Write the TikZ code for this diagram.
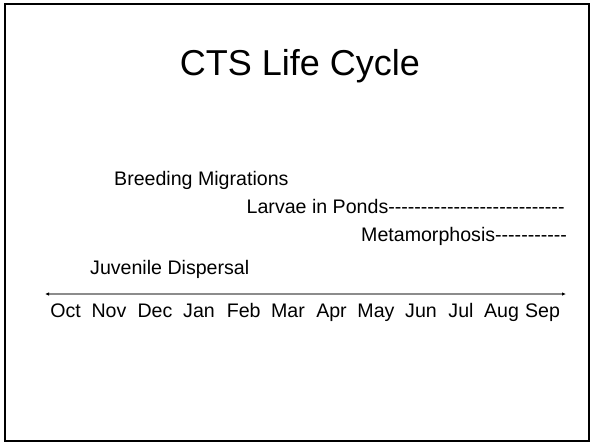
\documentclass[tikz,border=0pt]{standalone}
\usepackage{fontspec}
\setmainfont{Liberation Sans}
\usetikzlibrary{arrows.meta}
\newcommand\dashrun[1]{\ifnum#1>0 -\kern0pt\relax\expandafter\dashrun\expandafter{\the\numexpr#1-1\relax}\fi}
\definecolor{axisgray}{RGB}{140,140,140}
\tikzset{
  lbl/.style={inner sep=0pt, anchor=base west, font=\fontsize{19.6}{23}\selectfont},
  mon/.style={inner sep=0pt, anchor=base, font=\fontsize{19.6}{23}\selectfont},
  ttl/.style={inner sep=0pt, anchor=base, font=\fontsize{36}{40}\selectfont},
  frame/.style={draw=black, line width=2pt},
  axis/.style={draw=axisgray, line width=1.2pt, {Latex[black,length=4pt,width=3.5pt]}-{Latex[black,length=4pt,width=3.5pt]}}
}
\begin{document}
\begin{tikzpicture}[x=1pt,y=-1pt]
\useasboundingbox (0,0) rectangle (595,445);
\draw[frame] (5,4) rectangle (589,441);
\node[ttl] (title) at (300,75) {CTS Life Cycle};
\node[lbl] (breed) at (114,185) {Breeding Migrations};
\node[lbl] (larvae) at (246.5,213.3) {Larvae in Ponds\dashrun{27}};
\node[lbl] (meta) at (361,241.7) {Metamorphosis\dashrun{11}};
\node[lbl] (juv) at (90,274) {Juvenile Dispersal};
\coordinate (axl) at (45,294);
\coordinate (axr) at (566,294);
\draw[axis] (axl) -- (axr);
\node[mon] (m1) at (65.5,317) {Oct};
\node[mon] (m2) at (109,317) {Nov};
\node[mon] (m3) at (155,317) {Dec};
\node[mon] (m4) at (199,317) {Jan};
\node[mon] (m5) at (243.7,317) {Feb};
\node[mon] (m6) at (288,317) {Mar};
\node[mon] (m7) at (331.5,317) {Apr};
\node[mon] (m8) at (376,317) {May};
\node[mon] (m9) at (421,317) {Jun};
\node[mon] (m10) at (461,317) {Jul};
\node[mon] (m11) at (501.5,317) {Aug};
\node[mon] (m12) at (542.5,317) {Sep};
\end{tikzpicture}
\end{document}
